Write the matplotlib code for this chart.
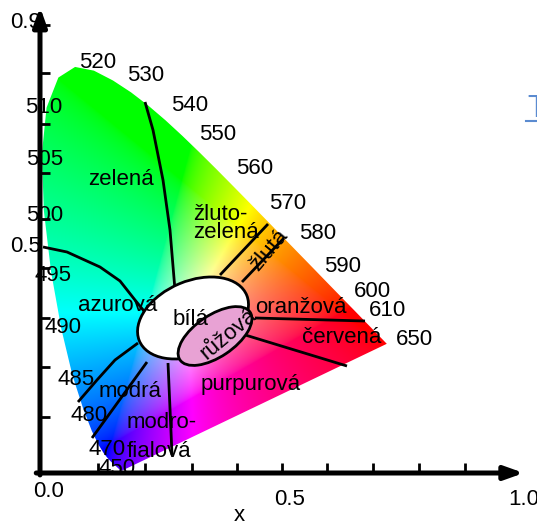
import numpy as np
import matplotlib
matplotlib.use("Agg")
import matplotlib.pyplot as plt
from matplotlib.patches import Polygon, Ellipse

plt.rcParams['font.family'] = ['Liberation Sans', 'DejaVu Sans']

# CIE 1931 spectral locus (x, y) for the wavelengths in nm
wavelengths = [380, 390, 400, 410, 420, 425, 430, 435, 440, 445, 450, 455, 460, 465,
               470, 475, 480, 485, 490, 495, 500, 505, 510, 515, 520, 525, 530, 535,
               540, 545, 550, 555, 560, 565, 570, 575, 580, 585, 590, 595, 600, 605,
               610, 615, 620, 625, 630, 640, 650, 660, 680, 700]
locus_x = [0.1741, 0.1738, 0.1733, 0.1726, 0.1714, 0.1703, 0.1689, 0.1669, 0.1644, 0.1611,
           0.1566, 0.1510, 0.1440, 0.1355, 0.1241, 0.1096, 0.0913, 0.0687, 0.0454, 0.0235,
           0.0082, 0.0039, 0.0139, 0.0389, 0.0743, 0.1142, 0.1547, 0.1929, 0.2296, 0.2658,
           0.3016, 0.3373, 0.3731, 0.4087, 0.4441, 0.4788, 0.5125, 0.5448, 0.5752, 0.6029,
           0.6270, 0.6482, 0.6658, 0.6801, 0.6915, 0.7006, 0.7079, 0.7190, 0.7260, 0.7300,
           0.7334, 0.7347]
locus_y = [0.0050, 0.0049, 0.0048, 0.0048, 0.0051, 0.0058, 0.0069, 0.0086, 0.0109, 0.0138,
           0.0177, 0.0227, 0.0297, 0.0399, 0.0578, 0.0868, 0.1327, 0.2007, 0.2950, 0.4127,
           0.5384, 0.6548, 0.7502, 0.8120, 0.8338, 0.8262, 0.8059, 0.7816, 0.7543, 0.7243,
           0.6923, 0.6589, 0.6245, 0.5896, 0.5547, 0.5202, 0.4866, 0.4544, 0.4242, 0.3965,
           0.3725, 0.3514, 0.3340, 0.3197, 0.3083, 0.2993, 0.2920, 0.2809, 0.2740, 0.2700,
           0.2666, 0.2653]

# wavelength labels around the locus
wl_labels = ['520', '530', '540', '550', '560', '570', '580', '590', '600', '610', '650',
             '510', '505', '500', '495', '490', '485', '480', '470', '450']
wl_label_x = [0.1229, 0.2246, 0.3178, 0.3771, 0.4555, 0.5254, 0.5890, 0.6419, 0.7034, 0.7352,
              0.7924, 0.0085, 0.0106, 0.0106, 0.0275, 0.0487, 0.0763, 0.1038, 0.1419, 0.1631]
wl_label_y = [0.8316, 0.8049, 0.7433, 0.6838, 0.6140, 0.5421, 0.4805, 0.4127, 0.3614, 0.3224,
              0.2628, 0.7392, 0.6324, 0.5175, 0.3943, 0.2875, 0.1807, 0.1068, 0.0370, -0.0021]

# colour region names (Czech)
names = ['zelená', 'azurová', 'bílá', 'oranžová', 'červená', 'purpurová', 'modrá']
name_x = [0.1716, 0.1653, 0.3199, 0.5530, 0.6398, 0.4470, 0.1907]
name_y = [0.5914, 0.3326, 0.3039, 0.3285, 0.2669, 0.1704, 0.1561]

# two-line names, left aligned
names_left = ['žluto-', 'zelená', 'modro-', 'fialová']
name_left_x = [0.3242, 0.3242, 0.1843, 0.1843]
name_left_y = [0.5195, 0.4825, 0.0924, 0.0329]

# rotated names
names_rot = ['žlutá', 'růžová']
name_rot_x = [0.4852, 0.4004]
name_rot_y = [0.4579, 0.2854]
name_rot_angle = [50, 40]

# boundary lines between the colour regions
boundaries = [
    ([0.2225, 0.2394, 0.2606, 0.2754, 0.2860], [0.7618, 0.7043, 0.6016, 0.4990, 0.3758]),
    ([0.0064, 0.0572, 0.1271, 0.1695, 0.2013, 0.2288], [0.4641, 0.4538, 0.4230, 0.3943, 0.3552, 0.3224]),
    ([0.0805, 0.1208, 0.1589, 0.2076], [0.1458, 0.1910, 0.2320, 0.2669]),
    ([0.1102, 0.2267], [0.0719, 0.2279]),
    ([0.2712, 0.2797], [0.2259, 0.0370]),
    ([0.3814, 0.4831], [0.4066, 0.5113]),
    ([0.4280, 0.5169], [0.3922, 0.4825]),
    ([0.4555, 0.6886], [0.3183, 0.3121]),
    ([0.4280, 0.6504], [0.2854, 0.2197]),
]

# white and pink areas: centre, width, height, angle
white_area = ((0.3242, 0.3183), 0.246, 0.152, 22)
pink_area = ((0.3708, 0.2813), 0.178, 0.086, 33)

# decorative ticks on the axes
xtick_pos = [0.1229, 0.2225, 0.3220, 0.4174, 0.5127, 0.6081, 0.7055, 0.8030, 0.9004]
ytick_pos = [0.1150, 0.2177, 0.3183, 0.4209, 0.5216, 0.6160, 0.7166, 0.8214, 0.9199]

fig = plt.figure(figsize=(5.37, 5.24), dpi=100)
ax = fig.add_axes([0, 0, 1, 1])

# colours of the chromaticity plane (XYZ with Y=1 -> rgb, clipped and scaled)
gx, gy = np.meshgrid(np.linspace(0.0, 0.8, 500), np.linspace(0.001, 0.9, 500))
xyz = np.stack([gx / gy, np.ones_like(gx), (1 - gx - gy) / gy], axis=-1)
M = np.array([[3.2406, -1.5372, -0.4986],
              [-0.9689, 1.8758, 0.0415],
              [0.0557, -0.2040, 1.0570]])
rgb = np.clip(xyz @ M.T, 0, None)
rgb = rgb / rgb.max(axis=-1, keepdims=True)
rgb = np.clip(rgb ** (1 / 1.8), 0, 1)

im = ax.imshow(rgb, origin='lower', extent=[0, 0.8, 0, 0.9], aspect='auto',
               interpolation='bilinear', zorder=1)
locus = Polygon(np.column_stack([locus_x, locus_y]), closed=True, transform=ax.transData,
                facecolor='none', edgecolor='none')
im.set_clip_path(locus)

for bx, by in boundaries:
    ax.plot(bx, by, color='black', lw=2.0, zorder=3, solid_capstyle='butt')

(cx, cy), w, h, a = white_area
ax.add_patch(Ellipse((cx, cy), w, h, angle=a, facecolor='white', edgecolor='black', lw=2.0, zorder=4))
(cx, cy), w, h, a = pink_area
ax.add_patch(Ellipse((cx, cy), w, h, angle=a, facecolor='#e8a2d4', edgecolor='black', lw=2.0, zorder=4))

fs = 16
for s, x, y in zip(wl_labels, wl_label_x, wl_label_y):
    ax.text(x, y, s, fontsize=fs, ha='center', va='baseline', zorder=5)
for s, x, y in zip(names, name_x, name_y):
    ax.text(x, y, s, fontsize=fs, ha='center', va='baseline', zorder=5)
for s, x, y in zip(names_left, name_left_x, name_left_y):
    ax.text(x, y, s, fontsize=fs, ha='left', va='baseline', zorder=5)
for s, x, y, r in zip(names_rot, name_rot_x, name_rot_y, name_rot_angle):
    ax.text(x, y, s, fontsize=fs, ha='center', va='center', rotation=r,
            rotation_mode='anchor', zorder=5)

# axes drawn as arrows
arrow = dict(arrowstyle='-|>,head_length=0.7,head_width=0.25', lw=3.6, color='black',
             mutation_scale=16, shrinkA=0, shrinkB=0)
ax.annotate('', xy=(0, 0.957), xytext=(0, -0.004), arrowprops=arrow, zorder=6)
ax.annotate('', xy=(1.025, 0), xytext=(-0.008, 0), arrowprops=arrow, zorder=6)

for s in ax.spines.values():
    s.set_visible(False)
ax.spines['left'].set_position(('data', 0))
ax.spines['bottom'].set_position(('data', 0))
ax.set_xticks(xtick_pos)
ax.set_yticks(ytick_pos)
ax.tick_params(direction='in', length=7, width=2, labelbottom=False, labelleft=False)
ax.set_axisbelow(False)

ax.text(-0.0307, 0.9138, '0.9', fontsize=fs, ha='center', va='baseline')
ax.text(-0.0297, 0.4538, '0.5', fontsize=fs, ha='center', va='baseline')
ax.text(0.0191, -0.0493, '0.0', fontsize=fs, ha='center', va='baseline')
ax.text(0.5297, -0.0657, '0.5', fontsize=fs, ha='center', va='baseline')
ax.text(0.9915, -0.0657, '1.0', fontsize=fs, ha='left', va='baseline')
ax.text(0.4216, -0.0985, 'x', fontsize=fs, ha='center', va='baseline')

# leftover of a blue heading at the right edge
ax.text(1.0318, 0.7310, 'T', fontsize=22, color='#5b8bd0', ha='left', va='baseline')
ax.plot([1.030, 1.07], [0.7228, 0.7228], color='#5b8bd0', lw=1.5, clip_on=False)

ax.set_xlim(-40 / 472, 497 / 472)
ax.set_ylim(-51 / 487, 473 / 487)

fig.savefig('out.png', dpi=100)
